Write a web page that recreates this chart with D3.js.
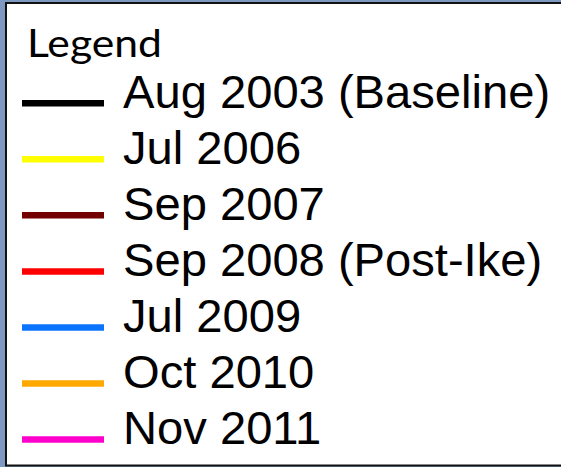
<!DOCTYPE html>
<html>
<head>
<meta charset="utf-8">
<script src="https://cdn.jsdelivr.net/npm/d3@7"></script>
<style>
  html, body { margin: 0; padding: 0; background: #7d99c0; }
  svg { display: block; }
  .item-label { font-family: "Liberation Sans", Arial, sans-serif; }
  .title { font-family: Lato, "Open Sans", sans-serif; }
</style>
</head>
<body>
<script>
// Survey dates shown in the legend, with the colour of each line
const surveys = [
  "Aug 2003 (Baseline)",
  "Jul 2006",
  "Sep 2007",
  "Sep 2008 (Post-Ike)",
  "Jul 2009",
  "Oct 2010",
  "Nov 2011"
];
const surveyColors = [
  "#000000",
  "#ffff00",
  "#720000",
  "#ff0000",
  "#0a74ff",
  "#ffa800",
  "#ff00cc"
];
const legendTitle = "Legend";

const W = 561, H = 467;
const svg = d3.select("body").append("svg")
  .attr("width", W).attr("height", H);

// blue backdrop and white legend box
svg.append("rect").attr("width", W).attr("height", H).attr("fill", "#7d99c0");
svg.append("rect")
  .attr("x", 6).attr("y", 3)
  .attr("width", W + 10).attr("height", 462.5)
  .attr("fill", "#ffffff")
  .attr("stroke", "#111111")
  .attr("stroke-width", 2);

const color = d3.scaleOrdinal().domain(surveys).range(surveyColors);
const y = d3.scalePoint().domain(surveys).range([103.3, 439.5]);

svg.append("text")
  .attr("class", "title")
  .attr("x", 27).attr("y", 56.7)
  .attr("font-size", 38.5)
  .attr("textLength", 135)
  .attr("lengthAdjust", "spacingAndGlyphs")
  .attr("fill", "#000")
  .text(legendTitle);

const rows = svg.selectAll("g.item").data(surveys).join("g")
  .attr("class", "item")
  .attr("transform", d => `translate(0,${y(d)})`);

rows.append("line")
  .attr("x1", 22).attr("x2", 104)
  .attr("y1", 0).attr("y2", 0)
  .attr("stroke", d => color(d))
  .attr("stroke-width", 6.5);

// labels are set slightly wide, as in the original typesetting
rows.append("text")
  .attr("class", "item-label")
  .attr("transform", "translate(123,4.6) scale(1.025,1)")
  .attr("font-size", 46)
  .attr("fill", "#000")
  .text(d => d);
</script>
</body>
</html>
